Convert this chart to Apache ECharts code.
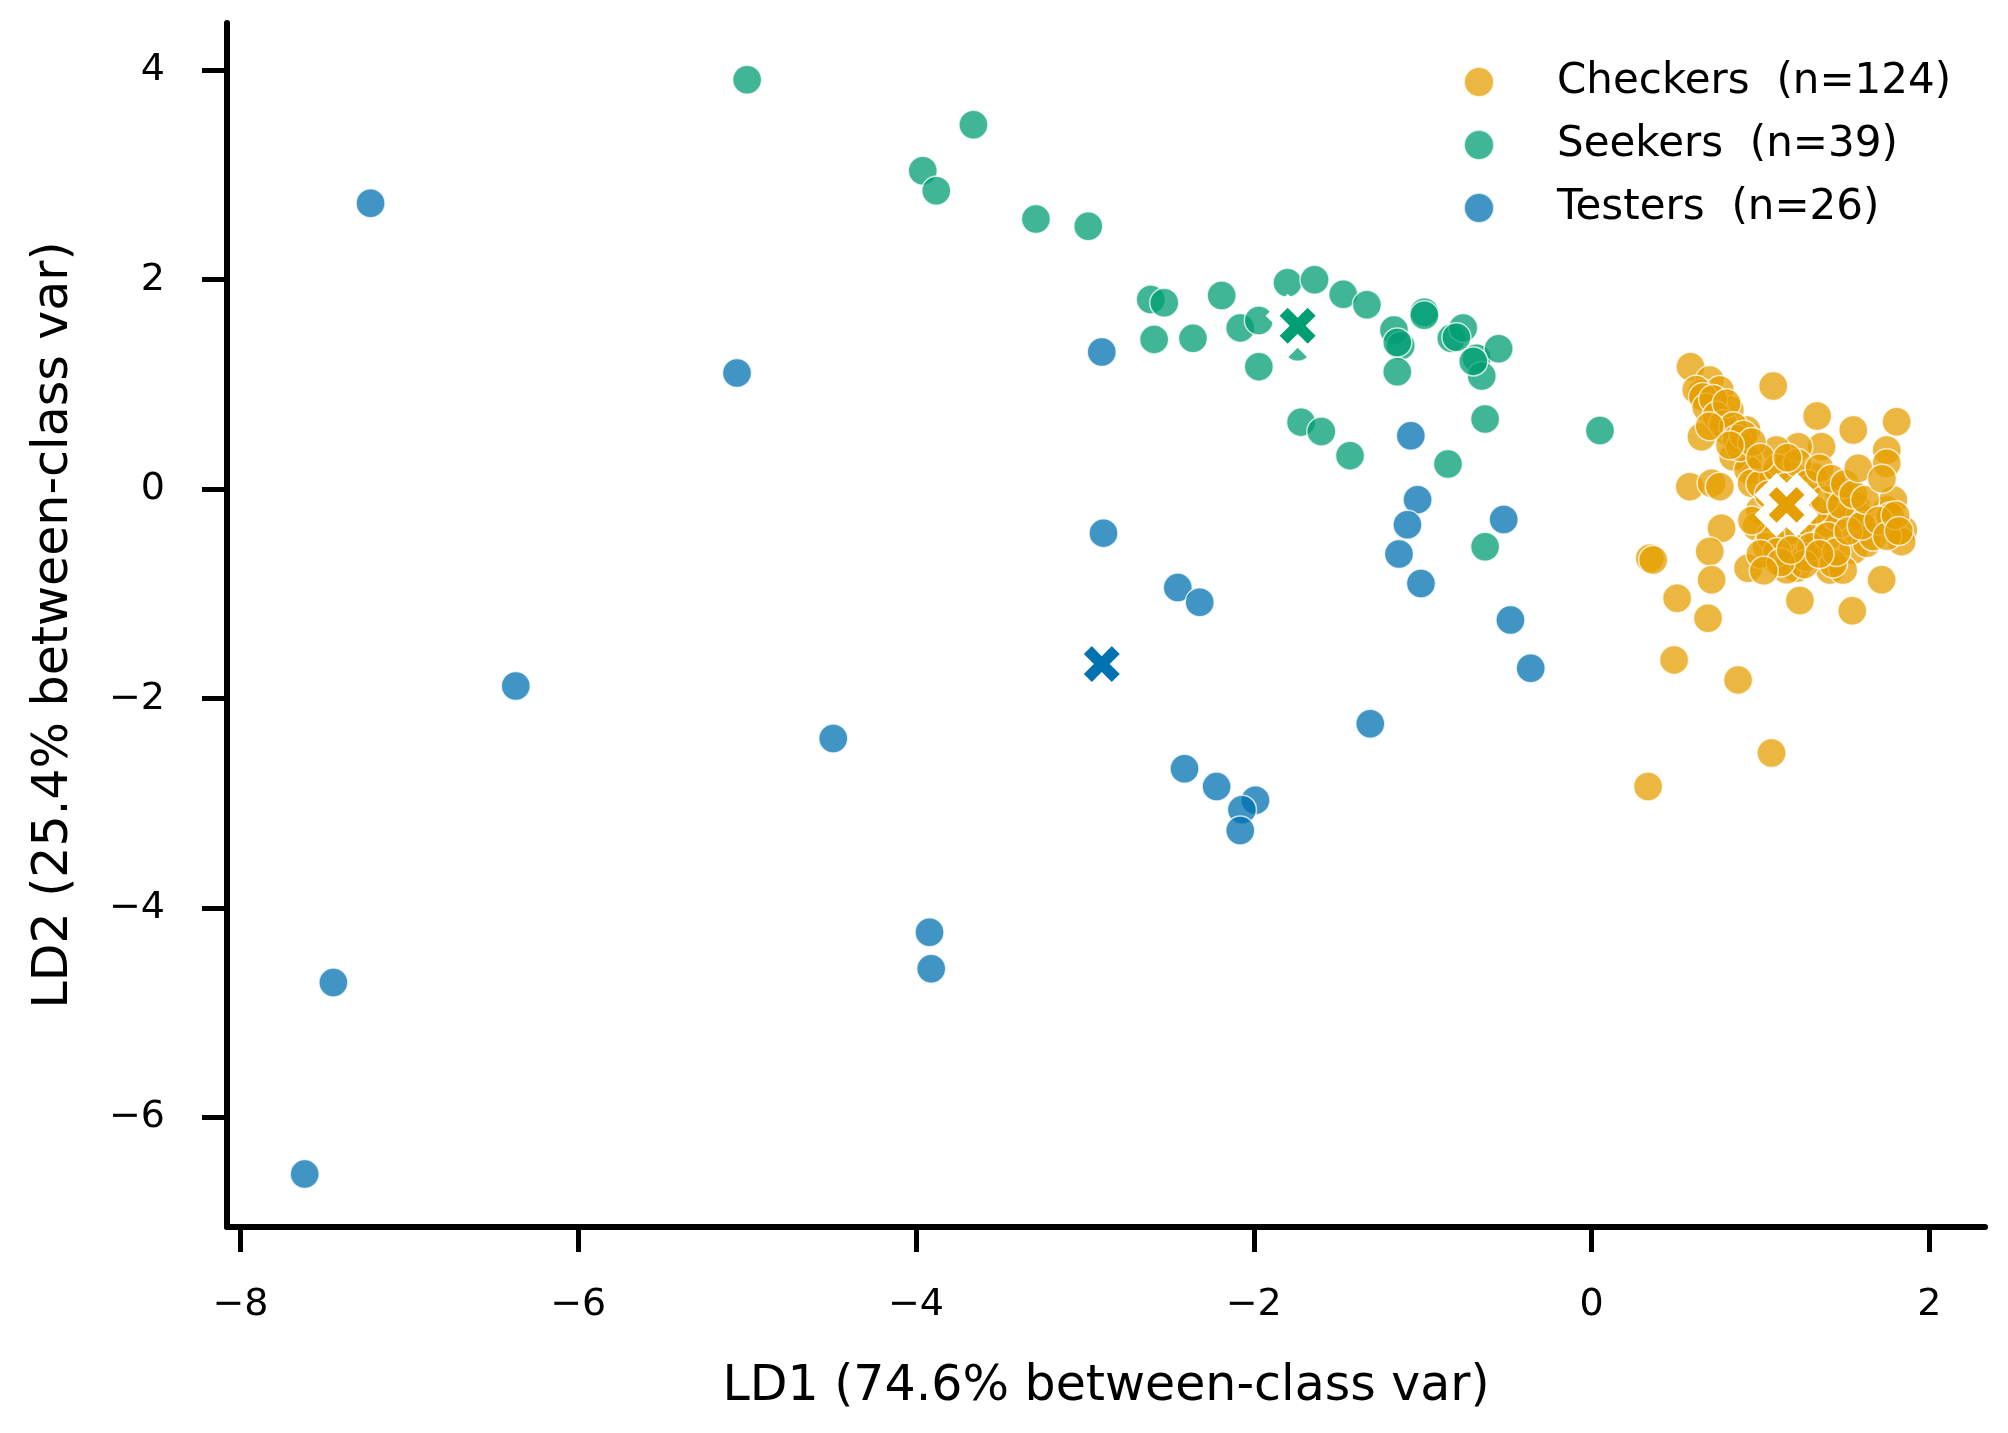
<!DOCTYPE html>
<html>
<head>
<meta charset="utf-8">
<title>LDA projection</title>
<script src="https://cdn.jsdelivr.net/npm/echarts@6/dist/echarts.min.js"></script>
<style>
  html, body { margin: 0; padding: 0; background: #fff; }
  #chart { width: 2008px; height: 1433px; }
</style>
</head>
<body>
<div id="chart"></div>
<script>
// ---- data ----
var groupNames = ['Checkers  (n=124)', 'Seekers  (n=39)', 'Testers  (n=26)'];
var groupColors = ['#E69F00', '#009E73', '#0072B2'];

var xTicks = [-8, -6, -4, -2, 0, 2];
var yTicks = [-6, -4, -2, 0, 2, 4];

var checkersLD1 = [
  0.586, 0.700, 0.651, 0.760, 0.819, 0.651, 0.809, 0.918, 1.076, 1.336,
  1.550, 1.807, 1.748, 1.748, 1.362, 1.224, 1.096, 0.927, 0.839, 0.927,
  0.582, 0.711, 0.760, 0.948, 1.076, 1.194, 1.313, 1.461, 1.570, 1.748,
  1.787, 1.846, 1.836, 0.770, 0.997, 0.977, 1.214, 1.333, 1.471, 1.550,
  1.629, 0.700, 0.345, 0.365, 0.711, 0.927, 1.096, 1.214, 1.412, 1.490,
  1.718, 0.507, 1.234, 0.690, 1.544, 0.489, 0.868, 1.066, 0.335, 1.115,
  1.273, 1.392, 1.450, 1.589, 1.668, 1.430, 1.155, 1.037, 1.270, 1.770,
  0.62, 0.66, 0.68, 0.72, 0.74, 0.78, 0.80, 0.84, 0.86, 0.88,
  0.90, 0.70, 0.95, 0.82, 1.00, 1.05, 1.10, 1.12, 1.15, 1.18,
  1.20, 1.22, 1.25, 1.28, 1.30, 1.32, 1.35, 1.38, 1.40, 1.42,
  1.45, 1.48, 1.50, 1.52, 1.55, 1.58, 1.60, 1.62, 1.06, 1.10,
  1.26, 1.35, 1.00, 1.16, 1.70, 1.72, 1.75, 1.80, 1.82, 0.95,
  1.00, 1.12, 1.02, 1.18
];
var checkersLD2 = [
  1.169, 1.042, 0.915, 0.947, 0.756, 0.501, 0.549, 0.565, 0.985, 0.698,
  0.565, 0.644, 0.374, 0.247, 0.406, 0.406, 0.374, 0.279, 0.310, 0.183,
  0.024, 0.056, 0.024, 0.056, 0.119, 0.119, 0.119, -0.008, -0.167, -0.198,
  -0.103, -0.389, -0.501, -0.373, -0.198, -0.358, -0.485, -0.453, -0.326, -0.580,
  -0.516, -0.596, -0.660, -0.676, -0.866, -0.755, -0.676, -0.755, -0.771, -0.771,
  -0.866, -1.041, -1.064, -1.232, -1.162, -1.630, -1.821, -2.520, -2.839, -0.103,
  -0.072, -0.326, -0.262, -0.262, -0.453, -0.710, -0.770, -0.550, -0.650, -0.260,
  0.95, 0.88, 0.78, 0.86, 0.70, 0.62, 0.82, 0.60, 0.48, 0.40,
  0.52, 0.60, 0.45, 0.42, 0.05, -0.05, 0.20, -0.25, 0.02, -0.40,
  -0.15, 0.25, -0.30, 0.05, -0.55, -0.20, 0.20, -0.10, -0.45, 0.10,
  -0.60, -0.15, 0.05, -0.40, -0.05, 0.20, -0.35, -0.10, -0.45, -0.60,
  -0.72, -0.62, 0.30, 0.30, -0.30, 0.10, -0.45, -0.25, -0.40, -0.30,
  -0.62, -0.70, -0.78, -0.58
];

var seekersLD1 = [
  -5.00, -3.66, -3.96, -3.88, -3.29, -2.98, -2.61, -2.53, -2.19, -2.59,
  -2.36, -2.08, -1.97, -1.97, -1.80, -1.64, -1.47, -1.33, -1.17, -1.13,
  -1.15, -0.99, -0.99, -0.83, -0.76, -0.68, -0.65, -0.55, -1.72, -1.60,
  -1.43, -0.63, -0.85, 0.05, -0.63, -1.74, -1.15, -0.80, -0.70
];
var seekersLD2 = [
  3.91, 3.48, 3.04, 2.85, 2.58, 2.51, 1.81, 1.78, 1.85, 1.43,
  1.44, 1.54, 1.61, 1.17, 1.97, 2.00, 1.86, 1.76, 1.52, 1.37,
  1.12, 1.69, 1.66, 1.44, 1.54, 1.25, 1.08, 1.34, 0.64, 0.55,
  0.32, 0.67, 0.24, 0.56, -0.55, 1.36, 1.40, 1.45, 1.22
];

var testersLD1 = [
  -7.23, -5.06, -2.90, -2.89, -1.07, -1.03, -1.09, -1.14, -1.01, -0.52,
  -0.48, -0.36, -1.31, -2.45, -2.32, -6.37, -4.49, -2.41, -2.22, -1.99,
  -2.07, -2.08, -3.92, -3.91, -7.45, -7.62
];
var testersLD2 = [
  2.73, 1.11, 1.31, -0.42, 0.51, -0.10, -0.34, -0.62, -0.90, -0.29,
  -1.25, -1.71, -2.24, -0.94, -1.08, -1.88, -2.38, -2.67, -2.84, -2.97,
  -3.06, -3.26, -4.23, -4.58, -4.71, -6.54
];

// class centroids (drawn as X)
var centroidLD1 = [1.155, -1.74, -2.90];
var centroidLD2 = [-0.15, 1.56, -1.67];

// ---- chart ----
var FONT = 'DejaVu Sans';
var X_PATH = 'path://M-1,-0.4 L-0.4,-1 L0,-0.6 L0.4,-1 L1,-0.4 L0.6,0 L1,0.4 L0.4,1 L0,0.6 L-0.4,1 L-1,0.4 L-0.6,0 Z';

function zip(xs, ys) {
  var out = [];
  for (var i = 0; i < xs.length; i++) out.push([xs[i], ys[i]]);
  return out;
}
function tickFmt(v) {
  return v < 0 ? '\u2212' + Math.abs(v) : String(v);
}

var groups = [
  zip(checkersLD1, checkersLD2),
  zip(seekersLD1, seekersLD2),
  zip(testersLD1, testersLD2)
];

var series = groups.map(function (pts, i) {
  return {
    name: groupNames[i],
    type: 'scatter',
    data: pts,
    symbolSize: 29,
    itemStyle: { color: groupColors[i], opacity: 0.75, borderColor: '#fff', borderWidth: 1.5 },
    z: 2
  };
});

// centroid markers on top
centroidLD1.forEach(function (cx, i) {
  series.push({
    name: 'centroid' + i,
    type: 'scatter',
    data: [[cx, centroidLD2[i]]],
    symbol: X_PATH,
    symbolSize: 50,
    itemStyle: { color: groupColors[i], opacity: 1, borderColor: '#fff', borderWidth: 10 },
    z: 5
  });
});

var axisCommon = {
  type: 'value',
  nameLocation: 'middle',
  nameTextStyle: { fontSize: 49, color: '#000', fontFamily: FONT },
  axisLine: { show: true, onZero: false, lineStyle: { color: '#000', width: 6 } },
  splitLine: { show: false }
};

var chart = echarts.init(document.getElementById('chart'));
chart.setOption({
  animation: false,
  backgroundColor: '#fff',
  textStyle: { fontFamily: FONT },
  grid: { left: 227, right: 23, top: 23, bottom: 206, containLabel: false },
  legend: {
    data: groupNames,
    orient: 'vertical',
    left: 1458,
    top: 56,
    icon: 'circle',
    itemWidth: 146,
    itemHeight: 30,
    itemGap: 21,
    textStyle: { fontSize: 42, lineHeight: 41, color: '#000', fontFamily: FONT }
  },
  xAxis: Object.assign({}, axisCommon, {
    name: 'LD1 (74.6% between-class var)',
    nameGap: 136,
    min: -8.08,
    max: 2.33,
    axisTick: { show: true, length: 25, lineStyle: { color: '#000', width: 5 }, customValues: xTicks },
    axisLabel: { fontSize: 38, color: '#000', margin: 59, fontFamily: FONT, customValues: xTicks, formatter: tickFmt }
  }),
  yAxis: Object.assign({}, axisCommon, {
    name: 'LD2 (25.4% between-class var)',
    nameGap: 148,
    nameRotate: 90,
    min: -7.045,
    max: 4.451,
    axisTick: { show: true, length: 25, lineStyle: { color: '#000', width: 5 }, customValues: yTicks },
    axisLabel: { fontSize: 38, color: '#000', margin: 62, fontFamily: FONT, customValues: yTicks, formatter: tickFmt }
  }),
  series: series
});
</script>
</body>
</html>
